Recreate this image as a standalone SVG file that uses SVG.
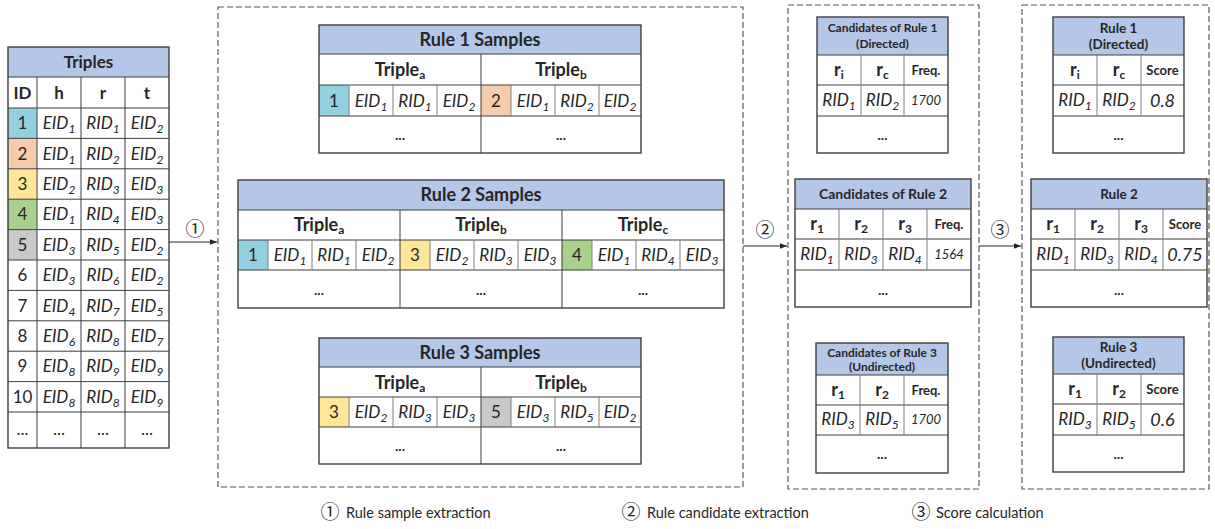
<svg xmlns="http://www.w3.org/2000/svg" width="1215" height="529" viewBox="0 0 1215 529">
<defs>
<marker id="ah" viewBox="0 0 10 10" refX="10" refY="5" markerWidth="7" markerHeight="7" orient="auto" markerUnits="userSpaceOnUse"><path d="M0,1 L10,5 L0,9 z" fill="#262626"/></marker>
<style>
.hd{fill:#b4c7e7}
.bx{fill:none;stroke:#3f3f3f;stroke-width:1.4}
.ln{stroke:#3f3f3f;stroke-width:1}
.lg{stroke:#7f7f7f;stroke-width:1}
.dash{fill:none;stroke:#595959;stroke-width:1.2;stroke-dasharray:6 3}
.c1{fill:#92d0df}.c2{fill:#f8cbad}.c3{fill:#ffe699}.c4{fill:#a9d18e}.c5{fill:#c9c9c9}
text{font-family:Lato,"Liberation Sans",sans-serif;fill:#262626;text-anchor:middle;font-size:17px}
.b{font-weight:bold}
.i{font-style:italic}
.s{font-size:12px}
.sb{font-size:12px;font-weight:bold}
.h18{font-size:18px;font-weight:bold}
.h17{font-size:17px;font-weight:bold}
.h14{font-size:14px;font-weight:bold}
.h13{font-size:13.5px;font-weight:bold}
.h12{font-size:12px;font-weight:bold}
.f{font-size:13px;font-style:italic}
.fq{font-size:13px;font-weight:bold}
.sc{font-size:18px;font-style:italic}
.cn{font-family:"Noto Sans CJK SC","DejaVu Sans",sans-serif;font-size:19px}
.lgd{font-size:14.5px;text-anchor:start}
.dots{font-weight:bold;font-size:14px}
</style>
</defs>
<rect width="1215" height="529" fill="#fff"/>

<g id="triples">
<rect class="hd" x="8" y="47" width="161" height="30"/>
<rect class="c1" x="8" y="108" width="29" height="30.4"/>
<rect class="c2" x="8" y="138.4" width="29" height="30.4"/>
<rect class="c3" x="8" y="168.8" width="29" height="30.4"/>
<rect class="c4" x="8" y="199.2" width="29" height="30.4"/>
<rect class="c5" x="8" y="229.6" width="29" height="30.4"/>
<g class="ln">
<line x1="8" y1="77" x2="169" y2="77"/><line x1="8" y1="108" x2="169" y2="108"/>
<line x1="8" y1="138.4" x2="169" y2="138.4"/><line x1="8" y1="168.8" x2="169" y2="168.8"/>
<line x1="8" y1="199.2" x2="169" y2="199.2"/><line x1="8" y1="229.6" x2="169" y2="229.6"/>
<line x1="8" y1="260" x2="169" y2="260"/><line x1="8" y1="290.4" x2="169" y2="290.4"/>
<line x1="8" y1="320.8" x2="169" y2="320.8"/><line x1="8" y1="351.2" x2="169" y2="351.2"/>
<line x1="8" y1="381.6" x2="169" y2="381.6"/><line x1="8" y1="412" x2="169" y2="412"/>
<line x1="37" y1="77" x2="37" y2="448"/><line x1="81" y1="77" x2="81" y2="448"/><line x1="125" y1="77" x2="125" y2="448"/>
</g>
<rect class="bx" x="8" y="47" width="161" height="401"/>
<text class="h17" x="88.5" y="68">Triples</text>
<text class="h17" x="22.5" y="98.5">ID</text><text class="h17" x="59" y="98.5">h</text><text class="h17" x="103" y="98.5">r</text><text class="h17" x="147" y="98.5">t</text>
<text x="22.5" y="129">1</text><text class="i" x="59" y="129">EID<tspan class="s" dy="4">1</tspan></text><text class="i" x="103" y="129">RID<tspan class="s" dy="4">1</tspan></text><text class="i" x="147" y="129">EID<tspan class="s" dy="4">2</tspan></text>
<text x="22.5" y="159.6">2</text><text class="i" x="59" y="159.6">EID<tspan class="s" dy="4">1</tspan></text><text class="i" x="103" y="159.6">RID<tspan class="s" dy="4">2</tspan></text><text class="i" x="147" y="159.6">EID<tspan class="s" dy="4">2</tspan></text>
<text x="22.5" y="190">3</text><text class="i" x="59" y="190">EID<tspan class="s" dy="4">2</tspan></text><text class="i" x="103" y="190">RID<tspan class="s" dy="4">3</tspan></text><text class="i" x="147" y="190">EID<tspan class="s" dy="4">3</tspan></text>
<text x="22.5" y="220.4">4</text><text class="i" x="59" y="220.4">EID<tspan class="s" dy="4">1</tspan></text><text class="i" x="103" y="220.4">RID<tspan class="s" dy="4">4</tspan></text><text class="i" x="147" y="220.4">EID<tspan class="s" dy="4">3</tspan></text>
<text x="22.5" y="250.8">5</text><text class="i" x="59" y="250.8">EID<tspan class="s" dy="4">3</tspan></text><text class="i" x="103" y="250.8">RID<tspan class="s" dy="4">5</tspan></text><text class="i" x="147" y="250.8">EID<tspan class="s" dy="4">2</tspan></text>
<text x="22.5" y="281.2">6</text><text class="i" x="59" y="281.2">EID<tspan class="s" dy="4">3</tspan></text><text class="i" x="103" y="281.2">RID<tspan class="s" dy="4">6</tspan></text><text class="i" x="147" y="281.2">EID<tspan class="s" dy="4">2</tspan></text>
<text x="22.5" y="311.6">7</text><text class="i" x="59" y="311.6">EID<tspan class="s" dy="4">4</tspan></text><text class="i" x="103" y="311.6">RID<tspan class="s" dy="4">7</tspan></text><text class="i" x="147" y="311.6">EID<tspan class="s" dy="4">5</tspan></text>
<text x="22.5" y="342">8</text><text class="i" x="59" y="342">EID<tspan class="s" dy="4">6</tspan></text><text class="i" x="103" y="342">RID<tspan class="s" dy="4">8</tspan></text><text class="i" x="147" y="342">EID<tspan class="s" dy="4">7</tspan></text>
<text x="22.5" y="372.4">9</text><text class="i" x="59" y="372.4">EID<tspan class="s" dy="4">8</tspan></text><text class="i" x="103" y="372.4">RID<tspan class="s" dy="4">9</tspan></text><text class="i" x="147" y="372.4">EID<tspan class="s" dy="4">9</tspan></text>
<text x="22.5" y="402.8">10</text><text class="i" x="59" y="402.8">EID<tspan class="s" dy="4">8</tspan></text><text class="i" x="103" y="402.8">RID<tspan class="s" dy="4">8</tspan></text><text class="i" x="147" y="402.8">EID<tspan class="s" dy="4">9</tspan></text>
<text x="22.5" y="435" font-size="13">...</text><text x="59" y="435" font-size="13">...</text><text x="103" y="435" font-size="13">...</text><text x="147" y="435" font-size="13">...</text>
</g>

<g id="box-samples"><rect class="dash" x="218" y="7" width="525" height="480"/></g>
<g id="box-candidates"><rect class="dash" x="788" y="5" width="191" height="484"/></g>
<g id="box-rules"><rect class="dash" x="1022" y="5" width="187" height="484"/></g>

<g id="rule1-samples">
<rect class="hd" x="319" y="25" width="322" height="29"/>
<rect class="c1" x="319" y="85" width="30" height="31"/>
<rect class="c2" x="481" y="85" width="30" height="31"/>
<g class="ln"><line x1="319" y1="54" x2="641" y2="54"/><line x1="319" y1="85" x2="641" y2="85"/><line x1="319" y1="116" x2="641" y2="116"/><line x1="481" y1="54" x2="481" y2="153"/></g>
<g class="lg"><line x1="349" y1="85" x2="349" y2="116"/><line x1="393" y1="85" x2="393" y2="116"/><line x1="437" y1="85" x2="437" y2="116"/><line x1="511" y1="85" x2="511" y2="116"/><line x1="555" y1="85" x2="555" y2="116"/><line x1="599" y1="85" x2="599" y2="116"/></g>
<rect class="bx" x="319" y="25" width="322" height="128"/>
<text class="h18" x="480" y="46">Rule 1 Samples</text>
<text class="h18" x="400" y="76">Triple<tspan class="sb" dy="3">a</tspan></text>
<text class="h18" x="561" y="76">Triple<tspan class="sb" dy="3">b</tspan></text>
<text x="334" y="106.5">1</text><text class="i" x="371" y="106.5">EID<tspan class="s" dy="4">1</tspan></text><text class="i" x="415" y="106.5">RID<tspan class="s" dy="4">1</tspan></text><text class="i" x="459" y="106.5">EID<tspan class="s" dy="4">2</tspan></text>
<text x="496" y="106.5">2</text><text class="i" x="533" y="106.5">EID<tspan class="s" dy="4">1</tspan></text><text class="i" x="577" y="106.5">RID<tspan class="s" dy="4">2</tspan></text><text class="i" x="620" y="106.5">EID<tspan class="s" dy="4">2</tspan></text>
<text class="dots" x="400" y="140">...</text><text class="dots" x="561" y="140">...</text>
</g>

<g id="rule2-samples">
<rect class="hd" x="238" y="180" width="486" height="30"/>
<rect class="c1" x="238" y="240" width="30" height="30"/>
<rect class="c3" x="400" y="240" width="30" height="30"/>
<rect class="c4" x="562" y="240" width="30" height="30"/>
<g class="ln"><line x1="238" y1="210" x2="724" y2="210"/><line x1="238" y1="240" x2="724" y2="240"/><line x1="238" y1="270" x2="724" y2="270"/><line x1="400" y1="210" x2="400" y2="308"/><line x1="562" y1="210" x2="562" y2="308"/></g>
<g class="lg"><line x1="268" y1="240" x2="268" y2="270"/><line x1="312" y1="240" x2="312" y2="270"/><line x1="356" y1="240" x2="356" y2="270"/><line x1="430" y1="240" x2="430" y2="270"/><line x1="474" y1="240" x2="474" y2="270"/><line x1="518" y1="240" x2="518" y2="270"/><line x1="592" y1="240" x2="592" y2="270"/><line x1="636" y1="240" x2="636" y2="270"/><line x1="680" y1="240" x2="680" y2="270"/></g>
<rect class="bx" x="238" y="180" width="486" height="128"/>
<text class="h18" x="481" y="201">Rule 2 Samples</text>
<text class="h18" x="319" y="231">Triple<tspan class="sb" dy="3">a</tspan></text>
<text class="h18" x="481" y="231">Triple<tspan class="sb" dy="3">b</tspan></text>
<text class="h18" x="643" y="231">Triple<tspan class="sb" dy="3">c</tspan></text>
<text x="253" y="261">1</text><text class="i" x="290" y="261">EID<tspan class="s" dy="4">1</tspan></text><text class="i" x="334" y="261">RID<tspan class="s" dy="4">1</tspan></text><text class="i" x="378" y="261">EID<tspan class="s" dy="4">2</tspan></text>
<text x="415" y="261">3</text><text class="i" x="452" y="261">EID<tspan class="s" dy="4">2</tspan></text><text class="i" x="496" y="261">RID<tspan class="s" dy="4">3</tspan></text><text class="i" x="540" y="261">EID<tspan class="s" dy="4">3</tspan></text>
<text x="577" y="261">4</text><text class="i" x="614" y="261">EID<tspan class="s" dy="4">1</tspan></text><text class="i" x="658" y="261">RID<tspan class="s" dy="4">4</tspan></text><text class="i" x="702" y="261">EID<tspan class="s" dy="4">3</tspan></text>
<text class="dots" x="319" y="295">...</text><text class="dots" x="481" y="295">...</text><text class="dots" x="643" y="295">...</text>
</g>

<g id="rule3-samples">
<rect class="hd" x="319" y="338" width="322" height="29"/>
<rect class="c3" x="319" y="397" width="30" height="30"/>
<rect class="c5" x="481" y="397" width="30" height="30"/>
<g class="ln"><line x1="319" y1="367" x2="641" y2="367"/><line x1="319" y1="397" x2="641" y2="397"/><line x1="319" y1="427" x2="641" y2="427"/><line x1="481" y1="367" x2="481" y2="464"/></g>
<g class="lg"><line x1="349" y1="397" x2="349" y2="427"/><line x1="393" y1="397" x2="393" y2="427"/><line x1="437" y1="397" x2="437" y2="427"/><line x1="511" y1="397" x2="511" y2="427"/><line x1="555" y1="397" x2="555" y2="427"/><line x1="599" y1="397" x2="599" y2="427"/></g>
<rect class="bx" x="319" y="338" width="322" height="126"/>
<text class="h18" x="480" y="359">Rule 3 Samples</text>
<text class="h18" x="400" y="389">Triple<tspan class="sb" dy="3">a</tspan></text>
<text class="h18" x="561" y="389">Triple<tspan class="sb" dy="3">b</tspan></text>
<text x="334" y="418">3</text><text class="i" x="371" y="418">EID<tspan class="s" dy="4">2</tspan></text><text class="i" x="415" y="418">RID<tspan class="s" dy="4">3</tspan></text><text class="i" x="459" y="418">EID<tspan class="s" dy="4">3</tspan></text>
<text x="496" y="418">5</text><text class="i" x="533" y="418">EID<tspan class="s" dy="4">3</tspan></text><text class="i" x="577" y="418">RID<tspan class="s" dy="4">5</tspan></text><text class="i" x="620" y="418">EID<tspan class="s" dy="4">2</tspan></text>
<text class="dots" x="400" y="451">...</text><text class="dots" x="561" y="451">...</text>
</g>

<g id="cand-rule1">
<rect class="hd" x="817" y="17" width="131" height="38"/>
<g class="ln"><line x1="817" y1="55" x2="948" y2="55"/><line x1="817" y1="85" x2="948" y2="85"/><line x1="817" y1="116" x2="948" y2="116"/></g>
<g class="lg"><line x1="861" y1="55" x2="861" y2="116"/><line x1="904" y1="55" x2="904" y2="116"/></g>
<rect class="bx" x="817" y="17" width="131" height="136"/>
<text class="h12" x="882.5" y="32">Candidates of Rule 1</text>
<text class="h12" x="882.5" y="48">(Directed)</text>
<text class="h18" x="839" y="76">r<tspan class="sb" dy="3">i</tspan></text><text class="h18" x="882.5" y="76">r<tspan class="sb" dy="3">c</tspan></text><text class="fq" x="926" y="75">Freq.</text>
<text class="i" x="839" y="106">RID<tspan class="s" dy="4">1</tspan></text><text class="i" x="882.5" y="106">RID<tspan class="s" dy="4">2</tspan></text><text class="f" x="926" y="105">1700</text>
<text class="dots" x="882.5" y="140">...</text>
</g>

<g id="cand-rule2">
<rect class="hd" x="795" y="179" width="176" height="30"/>
<g class="ln"><line x1="795" y1="209" x2="971" y2="209"/><line x1="795" y1="239" x2="971" y2="239"/><line x1="795" y1="270" x2="971" y2="270"/></g>
<g class="lg"><line x1="839" y1="209" x2="839" y2="270"/><line x1="883" y1="209" x2="883" y2="270"/><line x1="927" y1="209" x2="927" y2="270"/></g>
<rect class="bx" x="795" y="179" width="176" height="128"/>
<text class="h14" x="883" y="199">Candidates of Rule 2</text>
<text class="h18" x="817" y="230">r<tspan class="sb" dy="3">1</tspan></text><text class="h18" x="861" y="230">r<tspan class="sb" dy="3">2</tspan></text><text class="h18" x="905" y="230">r<tspan class="sb" dy="3">3</tspan></text><text class="fq" x="949" y="229">Freq.</text>
<text class="i" x="817" y="260">RID<tspan class="s" dy="4">1</tspan></text><text class="i" x="861" y="260">RID<tspan class="s" dy="4">3</tspan></text><text class="i" x="905" y="260">RID<tspan class="s" dy="4">4</tspan></text><text class="f" x="949" y="259">1564</text>
<text class="dots" x="883" y="295">...</text>
</g>

<g id="cand-rule3">
<rect class="hd" x="816" y="343" width="132" height="32"/>
<g class="ln"><line x1="816" y1="375" x2="948" y2="375"/><line x1="816" y1="405" x2="948" y2="405"/><line x1="816" y1="435" x2="948" y2="435"/></g>
<g class="lg"><line x1="860" y1="375" x2="860" y2="435"/><line x1="904" y1="375" x2="904" y2="435"/></g>
<rect class="bx" x="816" y="343" width="132" height="130"/>
<text class="h12" x="882" y="357">Candidates of Rule 3</text>
<text class="h12" x="882" y="371">(Undirected)</text>
<text class="h18" x="838" y="396">r<tspan class="sb" dy="3">1</tspan></text><text class="h18" x="882" y="396">r<tspan class="sb" dy="3">2</tspan></text><text class="fq" x="926" y="395">Freq.</text>
<text class="i" x="838" y="425">RID<tspan class="s" dy="4">3</tspan></text><text class="i" x="882" y="425">RID<tspan class="s" dy="4">5</tspan></text><text class="f" x="926" y="424">1700</text>
<text class="dots" x="882" y="459">...</text>
</g>

<g id="rule1">
<rect class="hd" x="1053" y="17" width="131" height="38"/>
<g class="ln"><line x1="1053" y1="55" x2="1184" y2="55"/><line x1="1053" y1="85" x2="1184" y2="85"/><line x1="1053" y1="116" x2="1184" y2="116"/></g>
<g class="lg"><line x1="1097" y1="55" x2="1097" y2="116"/><line x1="1141" y1="55" x2="1141" y2="116"/></g>
<rect class="bx" x="1053" y="17" width="131" height="136"/>
<text class="h13" x="1118.5" y="33">Rule 1</text>
<text class="h13" x="1118.5" y="49">(Directed)</text>
<text class="h18" x="1075" y="76">r<tspan class="sb" dy="3">i</tspan></text><text class="h18" x="1119" y="76">r<tspan class="sb" dy="3">c</tspan></text><text class="fq" x="1162.5" y="75">Score</text>
<text class="i" x="1075" y="106">RID<tspan class="s" dy="4">1</tspan></text><text class="i" x="1119" y="106">RID<tspan class="s" dy="4">2</tspan></text><text class="sc" x="1162.5" y="107">0.8</text>
<text class="dots" x="1118.5" y="140">...</text>
</g>

<g id="rule2">
<rect class="hd" x="1031" y="179" width="176" height="30"/>
<g class="ln"><line x1="1031" y1="209" x2="1207" y2="209"/><line x1="1031" y1="239" x2="1207" y2="239"/><line x1="1031" y1="270" x2="1207" y2="270"/></g>
<g class="lg"><line x1="1075" y1="209" x2="1075" y2="270"/><line x1="1119" y1="209" x2="1119" y2="270"/><line x1="1163" y1="209" x2="1163" y2="270"/></g>
<rect class="bx" x="1031" y="179" width="176" height="128"/>
<text class="h13" x="1119" y="199">Rule 2</text>
<text class="h18" x="1053" y="230">r<tspan class="sb" dy="3">1</tspan></text><text class="h18" x="1097" y="230">r<tspan class="sb" dy="3">2</tspan></text><text class="h18" x="1141" y="230">r<tspan class="sb" dy="3">3</tspan></text><text class="fq" x="1185" y="229">Score</text>
<text class="i" x="1053" y="260">RID<tspan class="s" dy="4">1</tspan></text><text class="i" x="1097" y="260">RID<tspan class="s" dy="4">3</tspan></text><text class="i" x="1141" y="260">RID<tspan class="s" dy="4">4</tspan></text><text class="sc" x="1185" y="261">0.75</text>
<text class="dots" x="1119" y="295">...</text>
</g>

<g id="rule3">
<rect class="hd" x="1053" y="337" width="131" height="37"/>
<g class="ln"><line x1="1053" y1="374" x2="1184" y2="374"/><line x1="1053" y1="404" x2="1184" y2="404"/><line x1="1053" y1="435" x2="1184" y2="435"/></g>
<g class="lg"><line x1="1097" y1="374" x2="1097" y2="435"/><line x1="1141" y1="374" x2="1141" y2="435"/></g>
<rect class="bx" x="1053" y="337" width="131" height="135"/>
<text class="h13" x="1118.5" y="352">Rule 3</text>
<text class="h13" x="1118.5" y="368">(Undirected)</text>
<text class="h18" x="1075" y="395">r<tspan class="sb" dy="3">1</tspan></text><text class="h18" x="1119" y="395">r<tspan class="sb" dy="3">2</tspan></text><text class="fq" x="1162.5" y="394">Score</text>
<text class="i" x="1075" y="425">RID<tspan class="s" dy="4">3</tspan></text><text class="i" x="1119" y="425">RID<tspan class="s" dy="4">5</tspan></text><text class="sc" x="1162.5" y="426">0.6</text>
<text class="dots" x="1118.5" y="459">...</text>
</g>

<g id="connectors" stroke="#262626" stroke-width="1.2" fill="none">
<line x1="169" y1="242" x2="217" y2="242" marker-end="url(#ah)"/>
<line x1="743" y1="246" x2="787" y2="246" marker-end="url(#ah)"/>
<line x1="979" y1="246" x2="1021" y2="246" marker-end="url(#ah)"/>
</g>
<g id="connector-labels">
<text class="cn" x="195" y="236">①</text>
<text class="cn" x="765" y="237">②</text>
<text class="cn" x="1000" y="237">③</text>
</g>

<g id="legend">
<text class="cn" x="330" y="519">①</text><text class="lgd" x="346" y="518">Rule sample extraction</text>
<text class="cn" x="631" y="519">②</text><text class="lgd" x="647" y="518">Rule candidate extraction</text>
<text class="cn" x="921" y="519">③</text><text class="lgd" x="936" y="518">Score calculation</text>
</g>
</svg>
